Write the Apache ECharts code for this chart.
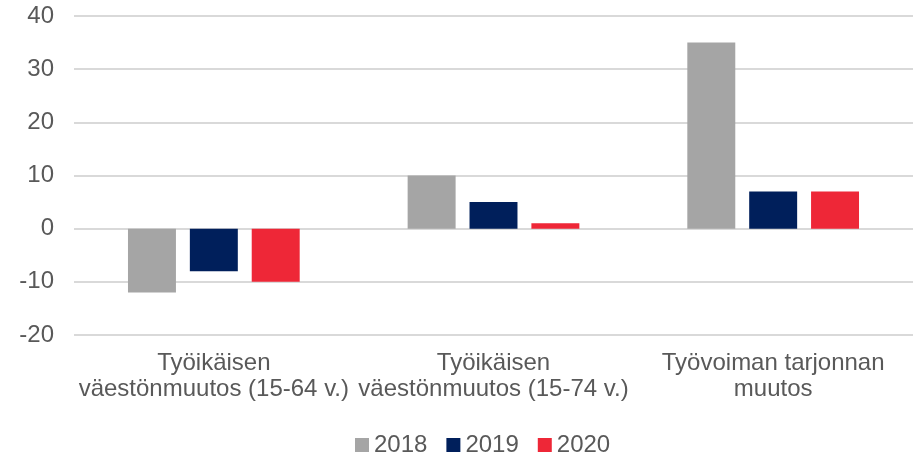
<!DOCTYPE html>
<html>
<head>
<meta charset="utf-8">
<script src="https://cdn.jsdelivr.net/npm/echarts@6/dist/echarts.min.js"></script>
<style>
  html, body { margin: 0; padding: 0; background: #fff; }
  #chart { width: 913px; height: 455px; }
</style>
</head>
<body>
<div id="chart"></div>
<script>
const categories = [
  'Työikäisen\nväestönmuutos (15-64 v.)',
  'Työikäisen\nväestönmuutos (15-74 v.)',
  'Työvoiman tarjonnan\nmuutos'
];
const seriesNames = ['2018', '2019', '2020'];
const values2018 = [-12, 10, 35];
const values2019 = [-8, 5, 7];
const values2020 = [-10, 1, 7];
const yTicks = { min: -20, max: 40, interval: 10 };

const colors = ['#A5A5A5', '#001F5B', '#EE2737'];
const textColor = '#595959';
const font = 'Liberation Sans, Arial, sans-serif';

const chart = echarts.init(document.getElementById('chart'));
const dataSets = [values2018, values2019, values2020];

chart.setOption({
  animation: false,
  color: colors,
  textStyle: { fontFamily: font, color: textColor },
  grid: { left: 74, right: 0, top: 16, bottom: 120 },
  legend: {
    left: 350,
    top: 428,
    itemWidth: 14,
    itemHeight: 14,
    itemGap: 19,
    icon: 'rect',
    textStyle: { fontSize: 24, color: textColor, fontFamily: font },
    data: seriesNames
  },
  xAxis: {
    type: 'category',
    data: categories,
    axisLine: { show: false },
    axisTick: { show: false },
    axisLabel: {
      fontSize: 24,
      lineHeight: 26,
      color: textColor,
      margin: 15,
      interval: 0
    }
  },
  yAxis: {
    type: 'value',
    min: yTicks.min,
    max: yTicks.max,
    interval: yTicks.interval,
    axisLine: { show: false },
    axisTick: { show: false },
    axisLabel: { fontSize: 24, color: textColor, margin: 20 },
    splitLine: { lineStyle: { color: '#D9D9D9', width: 2 } }
  },
  series: seriesNames.map((name, i) => ({
    name,
    type: 'bar',
    data: dataSets[i],
    barGap: '29%',
    barCategoryGap: '38.6%'
  }))
});
</script>
</body>
</html>
